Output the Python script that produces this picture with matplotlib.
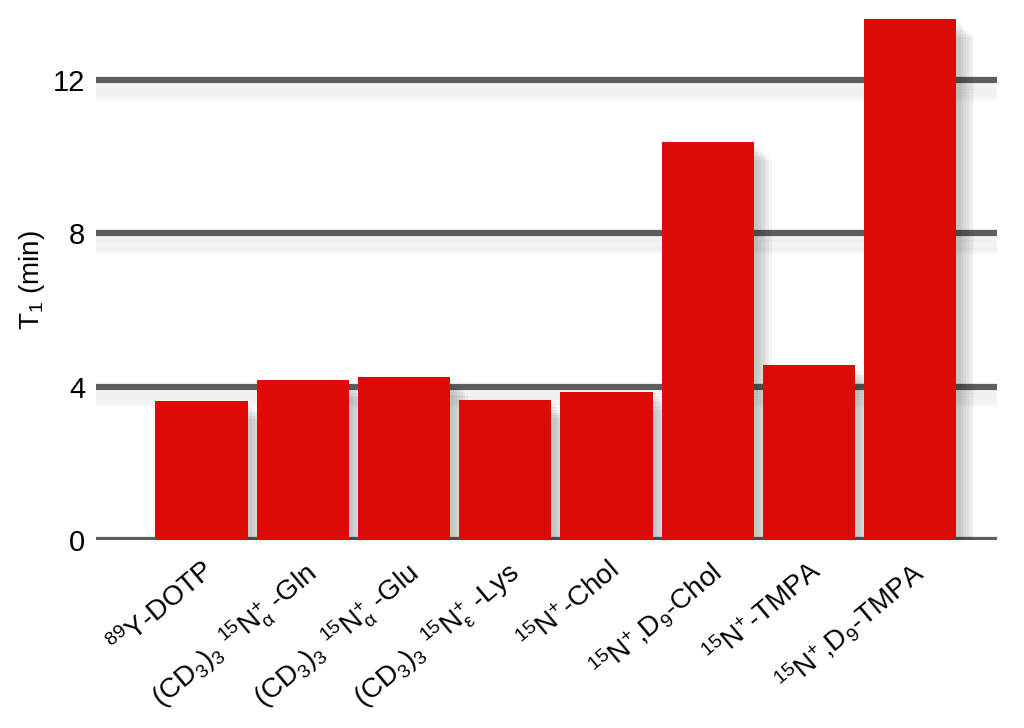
import matplotlib.pyplot as plt
import matplotlib.patheffects as pe

plt.rcParams['font.family'] = ['Liberation Sans', 'DejaVu Sans']
plt.rcParams['mathtext.fontset'] = 'custom'
plt.rcParams['mathtext.rm'] = 'Liberation Sans'
plt.rcParams['mathtext.it'] = 'Liberation Sans:italic'
plt.rcParams['mathtext.default'] = 'regular'

# valores
etiquetas = [
    r'$^{89}$Y-DOTP',
    r'(CD$_3$)$_3$ $^{15}$N$^{+}_{\alpha}$ -Gln',
    r'(CD$_3$)$_3$ $^{15}$N$^{+}_{\alpha}$ -Glu',
    r'(CD$_3$)$_3$ $^{15}$N$^{+}_{\varepsilon}$ -Lys',
    r'$^{15}$N$^{+}$-Chol',
    r'$^{15}$N$^{+}$,D$_9$-Chol',
    r'$^{15}$N$^{+}$-TMPA',
    r'$^{15}$N$^{+}$,D$_9$-TMPA',
]
t1_min = [3.63, 4.17, 4.25, 3.65, 3.86, 10.38, 4.57, 13.59]
yticks = [0, 4, 8, 12]

fig = plt.figure(figsize=(10.24, 7.28), dpi=100)
ax = fig.add_axes([0.094, 0.258, 0.880, 0.716])

x = range(len(t1_min))
sombra = [pe.SimplePatchShadow(offset=(d, -d), shadow_rgbFace='#000000', alpha=0.04)
          for d in (3, 5, 7, 9, 11, 13)]
bars = ax.bar(x, t1_min, width=0.91, color='#dd0a07', zorder=3)
for b in bars:
    b.set_path_effects(sombra + [pe.Normal()])

for yv in yticks:
    ax.axhline(yv, color='#5e5e5e', lw=4.5, zorder=1,
               path_effects=[pe.SimpleLineShadow(offset=(0, -d), shadow_color='#000000', alpha=0.025)
                             for d in (3, 5, 7, 9, 11, 13)] + [pe.Normal()])

ax.set_xlim(-1.04, 7.86)
ax.set_ylim(0, 13.59)
ax.set_yticks(yticks)
ax.tick_params(axis='y', length=0, pad=8, labelsize=21)
ax.set_xticks(list(x))
ax.set_xticklabels(etiquetas, rotation=40, ha='right', va='top', rotation_mode='anchor', fontsize=20)
ax.tick_params(axis='x', length=0, pad=12)
for s in ax.spines.values():
    s.set_visible(False)
ax.set_ylabel(r'T$_1$ (min)', fontsize=20, labelpad=4)

plt.savefig('out.png', dpi=100)
